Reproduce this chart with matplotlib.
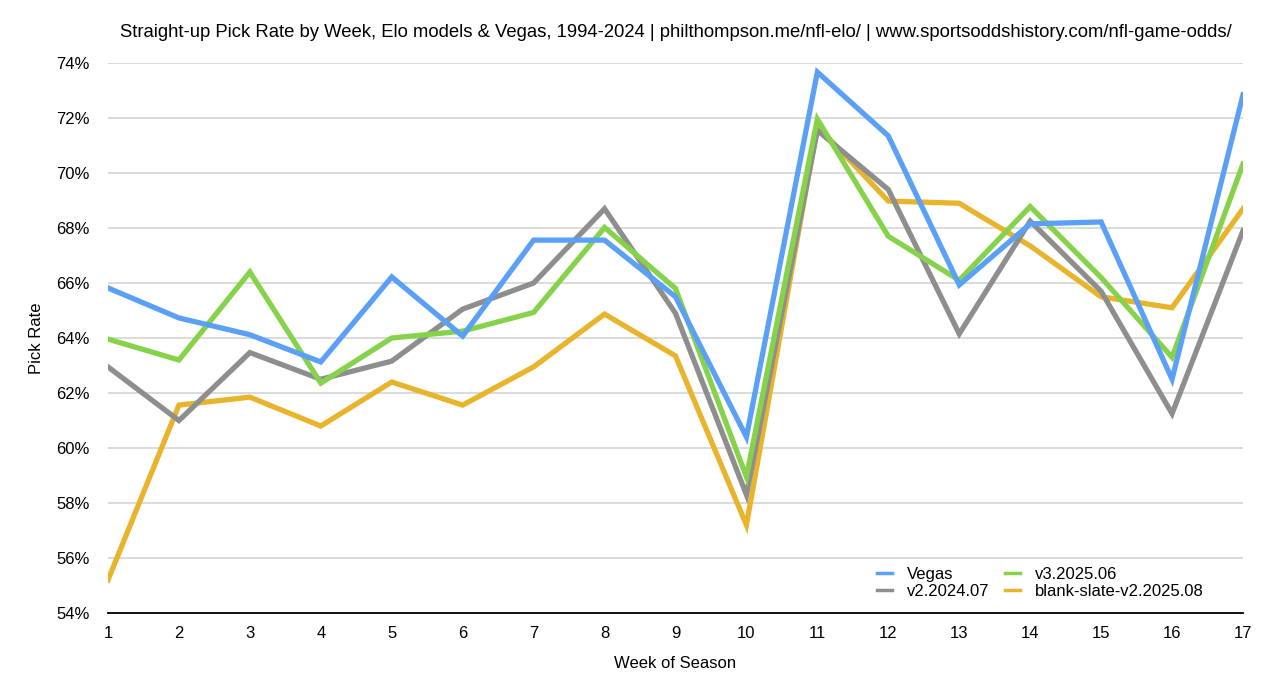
import matplotlib.pyplot as plt
from matplotlib.ticker import FuncFormatter

plt.rcParams['font.family'] = ['Liberation Sans', 'DejaVu Sans']

# Datos
semanas = list(range(1, 18))
vegas = [65.82, 64.73, 64.12, 63.13, 66.22, 64.07, 67.56, 67.56, 65.5, 60.4,
         73.67, 71.35, 65.93, 68.15, 68.22, 62.5, 72.84]
v3_2025_06 = [63.96, 63.2, 66.4, 62.36, 64.0, 64.25, 64.93, 68.02, 65.8, 58.95,
              71.96, 67.7, 66.1, 68.78, 66.2, 63.3, 70.33]
v2_2024_07 = [62.95, 61.0, 63.47, 62.5, 63.16, 65.05, 66.0, 68.7, 64.9, 58.3,
              71.55, 69.4, 64.15, 68.25, 65.7, 61.25, 67.9]
blank_slate = [55.2, 61.56, 61.85, 60.8, 62.4, 61.56, 62.95, 64.87, 63.35, 57.2,
               71.7, 68.98, 68.9, 67.35, 65.5, 65.1, 68.7]

colores = {
    'Vegas': '#5aa0f6',
    'v2.2024.07': '#8e8e8e',
    'v3.2025.06': '#86d24a',
    'blank-slate-v2.2025.08': '#e8b42c',
}

fig = plt.figure(figsize=(12.78, 6.94), dpi=100)
ax = fig.add_axes([0.0845, 0.1167, 0.8881, 0.7925])

ancho = 3.8
l_blank, = ax.plot(semanas, blank_slate, color=colores['blank-slate-v2.2025.08'], lw=ancho,
                   label='blank-slate-v2.2025.08', solid_joinstyle='miter')
l_v2, = ax.plot(semanas, v2_2024_07, color=colores['v2.2024.07'], lw=ancho,
                label='v2.2024.07', solid_joinstyle='miter')
l_v3, = ax.plot(semanas, v3_2025_06, color=colores['v3.2025.06'], lw=ancho,
                label='v3.2025.06', solid_joinstyle='miter')
l_vegas, = ax.plot(semanas, vegas, color=colores['Vegas'], lw=ancho,
                   label='Vegas', solid_joinstyle='miter')

ax.set_xlim(1, 17)
ax.set_ylim(54, 74)
ax.set_xticks(semanas)
ax.set_yticks(range(54, 75, 2))
ax.yaxis.set_major_formatter(FuncFormatter(lambda v, p: f'{v:.0f}%'))
ax.tick_params(axis='both', length=0, labelsize=12, colors='black')
ax.tick_params(axis='x', pad=9)
ax.tick_params(axis='y', pad=13)

ax.grid(axis='y', color='#d4d4d4', lw=1.2)
ax.set_axisbelow(True)
for lado in ['left', 'right', 'top']:
    ax.spines[lado].set_visible(False)
ax.spines['bottom'].set_color('black')
ax.spines['bottom'].set_linewidth(1.3)
ax.spines['bottom'].set_zorder(5)

ax.set_xlabel('Week of Season', fontsize=12, labelpad=11)
ax.set_ylabel('Pick Rate', fontsize=12, labelpad=9)
ax.set_title('Straight-up Pick Rate by Week, Elo models & Vegas, 1994-2024 | '
             'philthompson.me/nfl-elo/ | www.sportsoddshistory.com/nfl-game-odds/',
             fontsize=13.3, pad=19)

ax.legend(handles=[l_vegas, l_v2, l_v3, l_blank], ncol=2, frameon=False,
          loc='lower right', bbox_to_anchor=(0.978, 0.0), fontsize=12,
          handlelength=0.9, handletextpad=0.9, columnspacing=0.95,
          labelspacing=0.1, borderaxespad=0.45)
for h in ax.get_legend().get_lines():
    h.set_linewidth(2.5)

fig.savefig('out.png', dpi=100)
